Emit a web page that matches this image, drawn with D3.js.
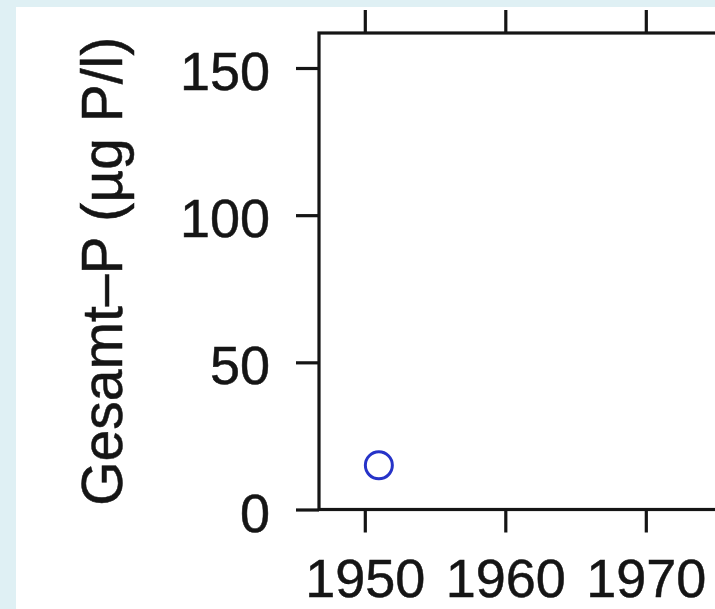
<!DOCTYPE html>
<html lang="de">
<head>
    <meta charset="UTF-8">
    <title>Gesamt-P</title>
    <script src="https://cdn.jsdelivr.net/npm/d3@7"></script>
    <style>
        html, body { margin: 0; padding: 0; background: #dff0f4; }
        svg { display: block; }
    </style>
</head>
<body>
<script>
    // Werte
    var years = [1951];
    var totalP = [15];
    var xTicks = [1950, 1960, 1970];
    var yTicks = [0, 50, 100, 150];

    function drawChart() {
        var w = 715, h = 609;
        var mLeft = 319, mTop = 33, mBottom = 509.5;
        var mRight = 1100; // Plotbereich geht rechts über das Bild hinaus

        var svg = d3.select("body").append("svg")
            .attr("width", w)
            .attr("height", h);

        // weißer Hintergrund mit hellblauem Rand
        svg.append("rect")
            .attr("x", 16).attr("y", 7)
            .attr("width", w - 16).attr("height", h - 7)
            .attr("fill", "#ffffff");

        // 1950 bei x=365, etwa 14.05 px pro Jahr
        var xScale = d3.scaleLinear()
            .domain([1946.74, 1946.74 + (mRight - mLeft) / 14.05])
            .range([mLeft, mRight]);
        var yScale = d3.scaleLinear()
            .domain([0, 150 * (mBottom - mTop) / (mBottom - 68)])
            .range([mBottom, mTop]);

        var font = "'Liberation Sans', Arial, Helvetica, sans-serif";
        var ink = "#151515";

        function styleAxis(g) {
            g.select(".domain").remove();
            g.selectAll("line").attr("stroke", ink).attr("stroke-width", 3.2);
            g.selectAll("text")
                .attr("fill", ink)
                .attr("stroke", ink)
                .attr("stroke-width", 0.5)
                .attr("font-family", font)
                .attr("font-size", "54px");
        }

        svg.append("g")
            .attr("transform", "translate(0," + mBottom + ")")
            .call(d3.axisBottom(xScale).tickValues(xTicks).tickFormat(d3.format("d"))
                .tickSize(23).tickPadding(26).tickSizeOuter(0))
            .call(styleAxis);

        svg.append("g")
            .attr("transform", "translate(0," + mTop + ")")
            .call(d3.axisTop(xScale).tickValues(xTicks).tickFormat("")
                .tickSize(23).tickSizeOuter(0))
            .call(styleAxis);

        svg.append("g")
            .attr("transform", "translate(" + mLeft + ",0)")
            .call(d3.axisLeft(yScale).tickValues(yTicks).tickFormat(d3.format("d"))
                .tickSize(23).tickPadding(26).tickSizeOuter(0))
            .call(styleAxis)
            .selectAll("text").attr("dy", "0.4em");

        // Rahmen
        svg.append("rect")
            .attr("x", mLeft).attr("y", mTop)
            .attr("width", mRight - mLeft).attr("height", mBottom - mTop)
            .attr("fill", "none")
            .attr("stroke", ink)
            .attr("stroke-width", 3.2);

        svg.selectAll("circle")
            .data(years)
            .enter()
            .append("circle")
            .attr("cx", function (d) { return xScale(d); })
            .attr("cy", function (d, i) { return yScale(totalP[i]); })
            .attr("r", 13.5)
            .attr("fill", "none")
            .attr("stroke", "#2633c8")
            .attr("stroke-width", 3);

        svg.append("text")
            .attr("transform", "translate(122," + ((mTop + mBottom) / 2) + ") rotate(-90)")
            .attr("text-anchor", "middle")
            .attr("font-family", font)
            .attr("font-size", "57px")
            .attr("fill", ink)
            .attr("stroke", ink)
            .attr("stroke-width", 0.5)
            .text("Gesamt\u2013P (\u00b5g P/l)");
    }
    drawChart();
</script>
</body>
</html>
